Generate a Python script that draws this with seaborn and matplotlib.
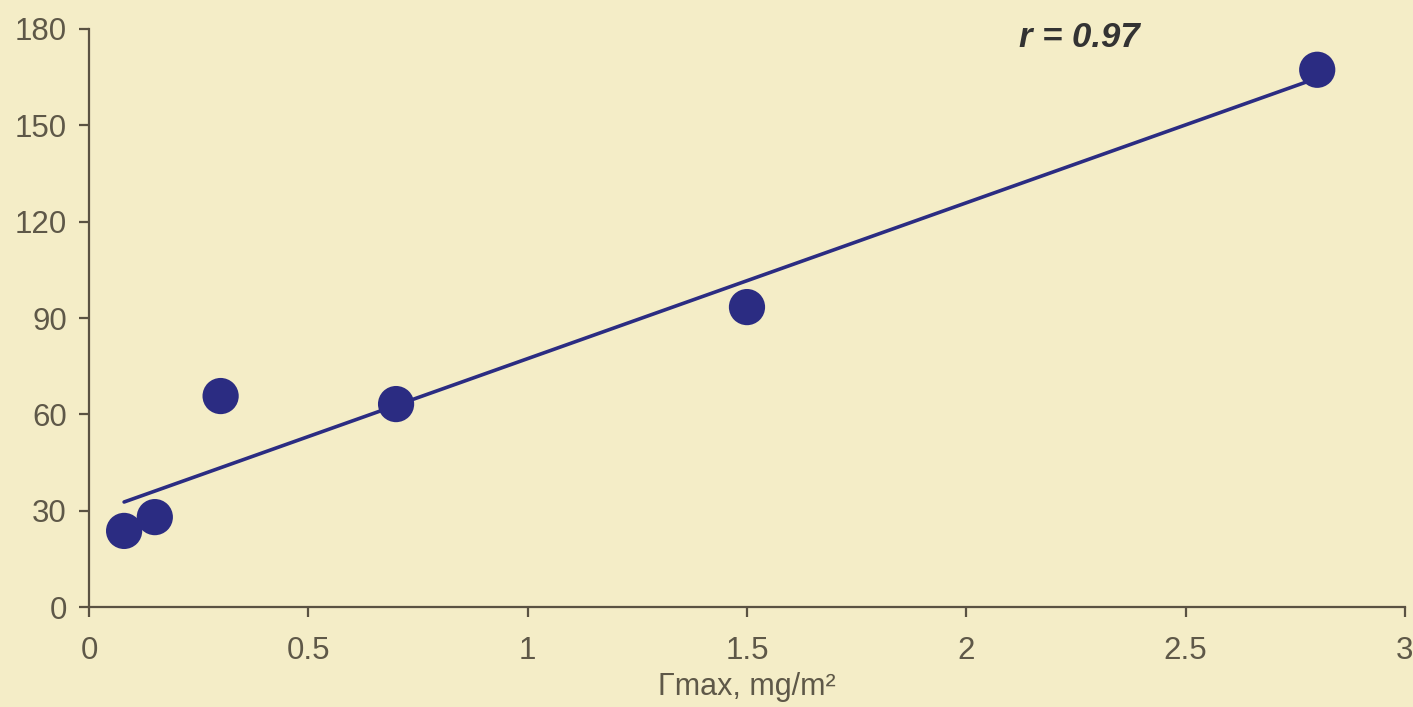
import numpy as np
import pandas as pd
import seaborn as sns
import matplotlib.pyplot as plt

# Adsorption maximum vs. response
gamma_max = [0.08, 0.15, 0.30, 0.70, 1.50, 2.80]
response = [23.7, 28.0, 65.7, 63.2, 93.4, 167.3]
x_ticks = [0, 0.5, 1, 1.5, 2, 2.5, 3]
x_tick_labels = ["0", "0.5", "1", "1.5", "2", "2.5", "3"]
y_ticks = [0, 30, 60, 90, 120, 150, 180]

df = pd.DataFrame({"gmax": gamma_max, "resp": response})
r_value = np.corrcoef(df["gmax"], df["resp"])[0, 1]

sns.set_theme(style="ticks")
plt.rcParams["font.family"] = ["Liberation Sans", "DejaVu Sans"]

bg = "#F4EDC7"
navy = "#2B2C82"
axis_col = "#5A5242"
text_col = "#5E5848"

fig = plt.figure(figsize=(14.13, 7.07), dpi=100, facecolor=bg)
ax = fig.add_axes([0.063, 0.1414, 0.9313, 0.8176], facecolor=bg)

sns.regplot(data=df, x="gmax", y="resp", ax=ax, ci=None,
            scatter_kws=dict(s=680, color=navy, edgecolor="none", alpha=1, zorder=3),
            line_kws=dict(color=navy, lw=2.6, zorder=2))

ax.set_xlim(0, 3)
ax.set_ylim(0, 180)
ax.set_xticks(x_ticks)
ax.set_xticklabels(x_tick_labels)
ax.set_yticks(y_ticks)
ax.tick_params(axis="both", direction="out", length=7, width=1.6, color=axis_col,
               labelsize=22.5, labelcolor=text_col)
ax.tick_params(axis="x", pad=14)
ax.tick_params(axis="y", pad=9)
for side in ("top", "right"):
    ax.spines[side].set_visible(False)
for side in ("left", "bottom"):
    ax.spines[side].set_color(axis_col)
    ax.spines[side].set_linewidth(1.6)

ax.set_xlabel("Γmax, mg/m²", fontsize=22, color=text_col, labelpad=4)
ax.set_ylabel("")

ax.text(2.12, 177.5, f"r = {r_value:.2f}", fontsize=25, style="italic",
        fontweight="bold", color="#333333", ha="left", va="center")

fig.savefig("out.png", dpi=100, facecolor=bg)
